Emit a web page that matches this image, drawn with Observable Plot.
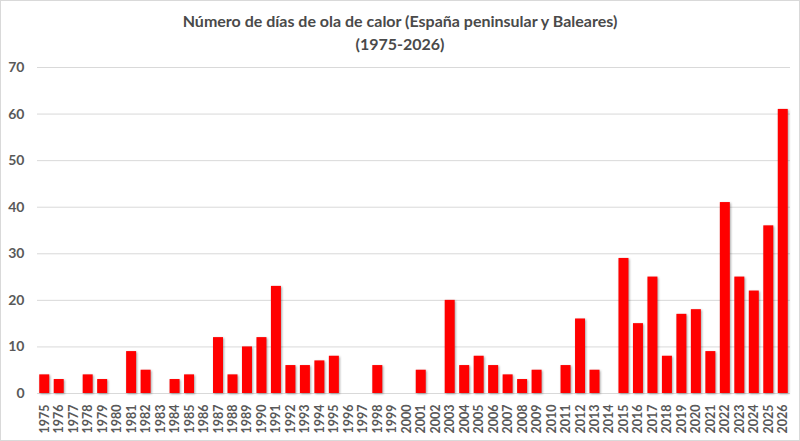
<!DOCTYPE html>
<html>
<head>
<meta charset="utf-8">
<script src="https://cdn.jsdelivr.net/npm/d3@7"></script>
<script src="https://cdn.jsdelivr.net/npm/@observablehq/plot@0.6"></script>
<style>
  html, body { margin: 0; padding: 0; background: #fff; }
  #wrap { width: 800px; height: 441px; box-sizing: border-box; border: 1px solid #d9d9d9; overflow: hidden; position: relative; background:#fff; }
  #title { font-family: Lato, "Open Sans", sans-serif; font-weight: bold; font-size: 16px; color: #4a4a4a; text-align: center; line-height: 23px; padding-top: 8px; height: 48px; }
  svg { display: block; }
</style>
</head>
<body>
<div id="wrap">
  <div id="title">Número de días de ola de calor (España peninsular y Baleares)<br>(1975-2026)</div>
  <div id="chart"></div>
</div>
<script>
const years = ["1975","1976","1977","1978","1979","1980","1981","1982","1983","1984","1985","1986","1987","1988","1989","1990","1991","1992","1993","1994","1995","1996","1997","1998","1999","2000","2001","2002","2003","2004","2005","2006","2007","2008","2009","2010","2011","2012","2013","2014","2015","2016","2017","2018","2019","2020","2021","2022","2023","2024","2025","2026"];
const days = [4,3,0,4,3,0,9,5,0,3,4,0,12,4,10,12,23,6,6,7,8,0,0,6,0,0,5,0,20,6,8,6,4,3,5,0,6,16,5,0,29,15,25,8,17,18,9,41,25,22,36,61];
const yTicks = [0,10,20,30,40,50,60,70];

const data = years.map((y, i) => ({year: y, value: days[i]}));

const chart = Plot.plot({
  width: 798,
  height: 385,
  marginTop: 10,
  marginBottom: 49,
  marginLeft: 36,
  marginRight: 9,
  style: {fontFamily: "Lato, 'Open Sans', sans-serif", background: "#fff"},
  x: {domain: years, paddingInner: 0.31, paddingOuter: 0.155, round: false, label: null},
  y: {domain: [0, 70], label: null},
  marks: [
    Plot.ruleY(yTicks, {stroke: "#d9d9d9", strokeWidth: 1}),
    Plot.barY(data, {x: "year", y: "value", fill: "#ff0000"}),
    Plot.axisY({ticks: yTicks, tickSize: 0, tickPadding: 13, fontSize: 14, fontWeight: "bold", fill: "#595959", label: null}),
    Plot.axisX({tickSize: 0, tickPadding: 11, tickRotate: -90, fontSize: 12.5, fontWeight: "bold", fill: "#595959", label: null})
  ]
});
d3.select(chart).selectAll('g[aria-label="bar"]').style("filter", "drop-shadow(1.5px 1px 1px rgba(0,0,0,0.35))");
document.getElementById("chart").appendChild(chart);
</script>
</body>
</html>
